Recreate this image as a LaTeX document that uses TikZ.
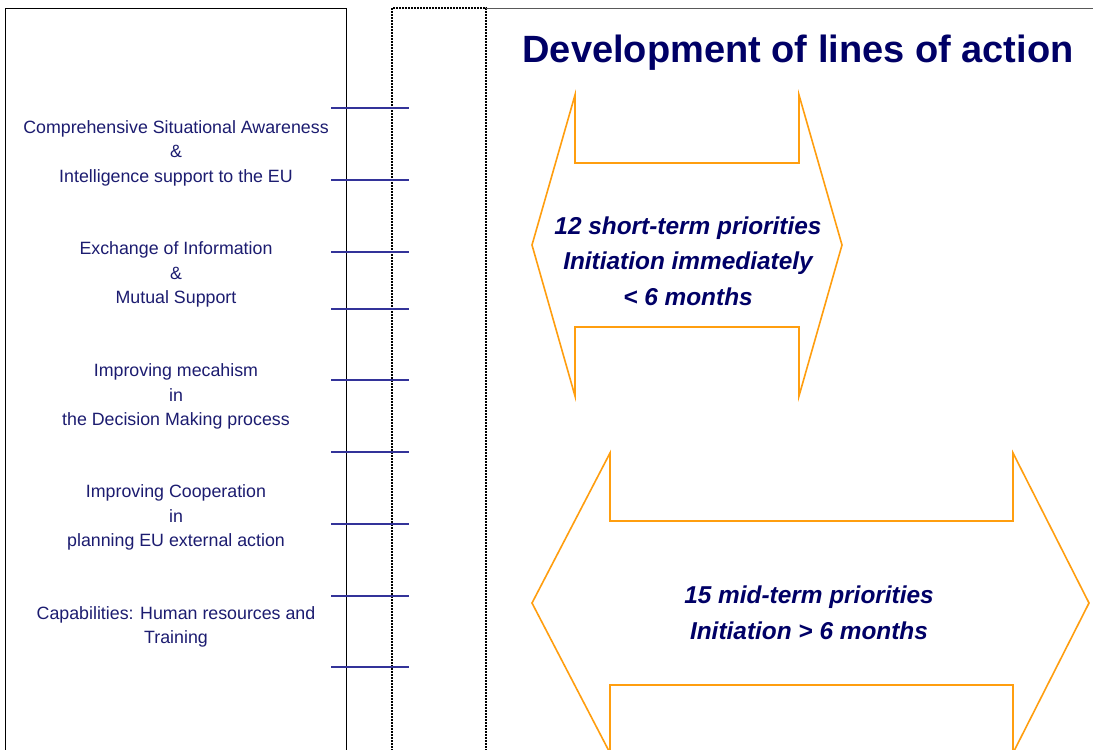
\documentclass[tikz,border=0pt]{standalone}
\usepackage{fontspec}
\setmainfont{Liberation Sans}
\definecolor{navy}{HTML}{000066}
\definecolor{lefttext}{HTML}{1C1C70}
\definecolor{tick}{HTML}{333399}
\definecolor{arroworange}{HTML}{FF9E0F}
\begin{document}
\begin{tikzpicture}[x=1pt,y=-1pt,
  lefttxt/.style={align=center,text=lefttext,font=\fontsize{17.8}{24.5}\selectfont,inner sep=0pt},
  arrtxt/.style={align=center,text=navy,font=\fontsize{24.4}{35.5}\selectfont\bfseries\itshape,inner sep=0pt},
  ticklet/.style={draw=tick,line width=1.3pt},
  bigarrow/.style={draw=arroworange,line width=1.6pt,line join=miter},
  dotline/.style={draw=black,line width=1.9pt,dash pattern=on 1.6pt off 1.4pt}]
\useasboundingbox (0,0) rectangle (1093,750);
\fill[white] (0,0) rectangle (1093,750);
% left box (open at bottom)
\draw[black,line width=0.9pt] (5,760) -- (5,8) -- (346,8) -- (346,760);
% dotted box
\draw[dotline] (392,760) -- (392,8) -- (486,8) -- (486,760);
% top line to the right
\draw[draw=black!65,line width=1pt] (486,8) -- (1093,8);
% ticks
\foreach \yy in {108,180,252,309,380,452,524,596,667}
  \draw[ticklet] (331,\yy) -- (409,\yy);
% left texts
\node[lefttxt] (t1) at (176,153) {Comprehensive Situational Awareness\\\&\\Intelligence support to the EU};
\node[lefttxt] (t2) at (176,274.5) {Exchange of Information\\\&\\Mutual Support};
\node[lefttxt] (t3) at (176,396.5) {Improving mecahism\\in\\the Decision Making process};
\node[lefttxt] (t4) at (176,517.5) {Improving Cooperation\\in\\planning EU external action};
\node[lefttxt] (t5) at (176,627) {Capabilities: Human resources and\\Training};
% title
\node[text=navy,font=\fontsize{38}{40}\selectfont\bfseries,inner sep=0pt] (title) at (798,53) {Development of lines of action};
% arrow 1
\draw[bigarrow] (532,245) -- (575,95) -- (575,163) -- (799,163) -- (799,95) -- (842,245)
  -- (799,396) -- (799,327) -- (575,327) -- (575,396) -- cycle;
\node[arrtxt] (a1) at (688,261) {12 short-term priorities\\Initiation immediately\\< 6 months};
% arrow 2
\draw[bigarrow] (532,603) -- (610,453) -- (610,521) -- (1013,521) -- (1013,453) -- (1089,603)
  -- (1013,753) -- (1013,685) -- (610,685) -- (610,753) -- cycle;
\node[arrtxt] (a2) at (809,613) {15 mid-term priorities\\Initiation > 6 months};
\end{tikzpicture}
\end{document}
